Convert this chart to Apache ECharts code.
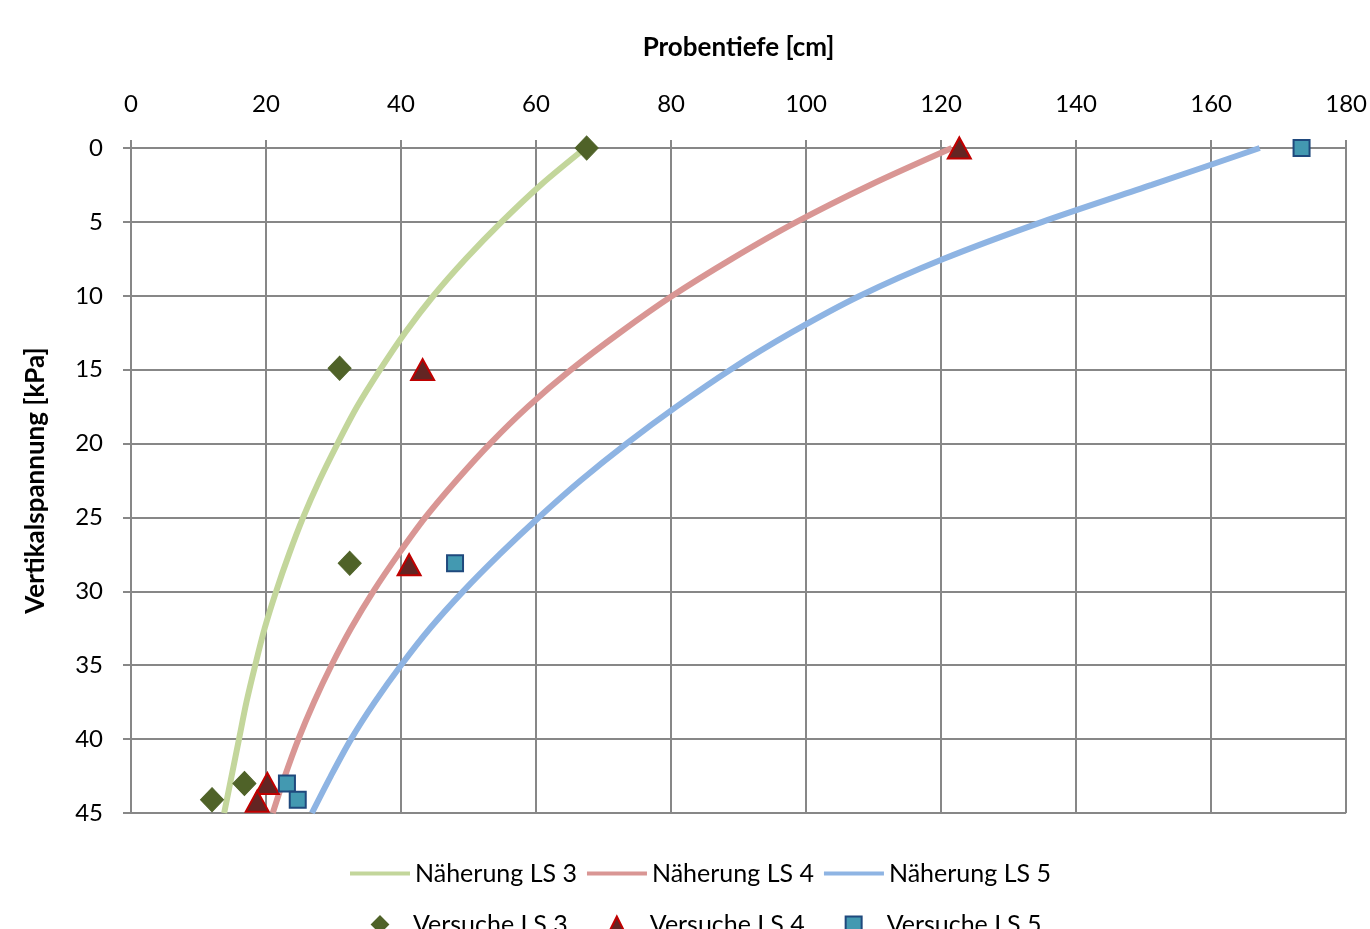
<!DOCTYPE html>
<html>
<head>
<meta charset="utf-8">
<script src="https://cdn.jsdelivr.net/npm/echarts@6/dist/echarts.min.js"></script>
<style>
html,body{margin:0;padding:0;background:#fff;}
#chart{width:1370px;height:929px;}
</style>
</head>
<body>
<div id="chart"></div>
<script>
// Näherung curves: stress [kPa] (y) and depth [cm] (x)
const curveStress   = [0, 2.5, 5, 7.5, 10, 12.5, 15, 17.5, 20, 22.5, 25, 27.5, 30, 32.5, 35, 37.5, 40, 42.5, 45];
const ls3CurveDepth = [67.3, 60.7, 54.9, 49.6, 44.8, 40.6, 36.9, 33.5, 30.6, 27.9, 25.5, 23.4, 21.5, 19.8, 18.4, 17.1, 16.0, 14.9, 13.8];
const ls4CurveDepth = [121.6, 109.5, 98.6, 89.0, 80.2, 72.4, 65.2, 58.8, 53.2, 48.2, 43.6, 39.6, 35.9, 32.6, 29.7, 27.1, 24.8, 22.8, 21.0];
const ls5CurveDepth = [167.2, 151.2, 135.0, 120.4, 108.0, 97.8, 88.8, 80.8, 73.4, 66.6, 60.4, 54.6, 49.2, 44.3, 40.0, 36.1, 32.6, 29.6, 26.8];

// Versuche (test points)
const ls3TestDepth  = [67.5, 30.9, 32.4, 16.8, 12.0];
const ls3TestStress = [0, 14.9, 28.1, 43.0, 44.1];
const ls4TestDepth  = [122.7, 43.2, 41.2, 20.2, 18.7];
const ls4TestStress = [0, 15.0, 28.2, 43.0, 44.2];
const ls5TestDepth  = [173.4, 48.0, 23.1, 24.7];
const ls5TestStress = [0, 28.1, 43.0, 44.1];

const xTicks = [0, 20, 40, 60, 80, 100, 120, 140, 160, 180];
const yTicks = [0, 5, 10, 15, 20, 25, 30, 35, 40, 45];

const pair = (xs, ys) => xs.map((x, i) => [x, ys[i]]);
const FONT = 'Lato';
const GRID_COLOR = '#878787';

const chart = echarts.init(document.getElementById('chart'));
const lineSeries = (name, xs, ys, color) => ({
  name, type: 'line', data: pair(xs, ys), smooth: 0.3,
  showSymbol: false, symbol: 'none', z: 2,
  lineStyle: { color, width: 6 }, itemStyle: { color }
});

chart.setOption({
  animation: false,
  backgroundColor: '#fff',
  textStyle: { fontFamily: FONT },
  grid: { left: 131, right: 20, top: 148, bottom: 116, containLabel: false },
  xAxis: {
    type: 'value', position: 'top', min: xTicks[0], max: xTicks[xTicks.length - 1], interval: 20,
    name: 'Probentiefe [cm]', nameLocation: 'middle', nameGap: 87,
    nameTextStyle: { fontFamily: FONT, fontSize: 26, fontWeight: 'bold', color: '#000' },
    axisLine: { show: true, lineStyle: { color: GRID_COLOR, width: 2 } },
    axisTick: { show: true, inside: false, length: 8, lineStyle: { color: GRID_COLOR, width: 2 } },
    axisLabel: { fontFamily: FONT, fontSize: 24, color: '#000', margin: 32 },
    splitLine: { show: true, lineStyle: { color: GRID_COLOR, width: 2 } }
  },
  yAxis: {
    type: 'value', inverse: true, min: yTicks[0], max: yTicks[yTicks.length - 1], interval: 5,
    name: 'Vertikalspannung [kPa]', nameLocation: 'middle', nameGap: 82, nameRotate: 90,
    nameTextStyle: { fontFamily: FONT, fontSize: 26, fontWeight: 'bold', color: '#000' },
    axisLine: { show: true, lineStyle: { color: GRID_COLOR, width: 2 } },
    axisTick: { show: true, inside: false, length: 8, lineStyle: { color: GRID_COLOR, width: 2 } },
    axisLabel: { fontFamily: FONT, fontSize: 24, color: '#000', margin: 28 },
    splitLine: { show: true, lineStyle: { color: GRID_COLOR, width: 2 } }
  },
  legend: [
    {
      data: ['Näherung LS 3', 'Näherung LS 4', 'Näherung LS 5'],
      top: 856, left: 345, itemGap: 10, itemWidth: 60, itemHeight: 4, icon: 'rect',
      textStyle: { fontFamily: FONT, fontSize: 25, color: '#000' }
    },
    {
      data: ['Versuche LS 3', 'Versuche LS 4', 'Versuche LS 5'],
      top: 907, left: 366, itemGap: 40, itemWidth: 16, itemHeight: 16,
      textStyle: { fontFamily: FONT, fontSize: 25, color: '#000', padding: [0, 0, 0, 20] }
    }
  ],
  series: [
    lineSeries('Näherung LS 3', ls3CurveDepth, curveStress, '#c3d69b'),
    lineSeries('Näherung LS 4', ls4CurveDepth, curveStress, '#d99694'),
    lineSeries('Näherung LS 5', ls5CurveDepth, curveStress, '#8eb4e3'),
    {
      name: 'Versuche LS 3', type: 'scatter', data: pair(ls3TestDepth, ls3TestStress),
      symbol: 'diamond', symbolSize: [23, 24], clip: false, z: 5,
      itemStyle: { color: '#4f6228', borderColor: '#4f6228', borderWidth: 1, opacity: 1 }
    },
    {
      name: 'Versuche LS 4', type: 'scatter', data: pair(ls4TestDepth, ls4TestStress),
      symbol: 'triangle', symbolSize: [23, 21], clip: false, z: 5,
      itemStyle: { color: '#632523', borderColor: '#c00000', borderWidth: 2, opacity: 1 }
    },
    {
      name: 'Versuche LS 5', type: 'scatter', data: pair(ls5TestDepth, ls5TestStress),
      symbol: 'rect', symbolSize: 16, clip: false, z: 5,
      itemStyle: { color: '#4399b1', borderColor: '#1f497d', borderWidth: 2, opacity: 1 }
    }
  ]
});
</script>
</body>
</html>
